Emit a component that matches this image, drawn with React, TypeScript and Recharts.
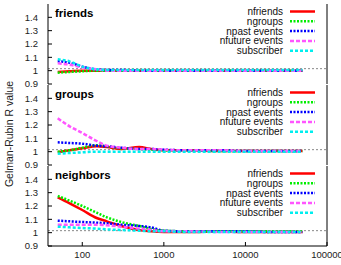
import { LineChart, Line, XAxis, YAxis, ReferenceLine, Legend } from "recharts";

// sample sizes (log x axis)
const xs = [50, 70, 100, 150, 200, 300, 500, 700, 1000, 2000, 5000, 10000, 20000, 50000];

const seriesNames = ["nfriends", "ngroups", "npast events", "nfuture events", "subscriber"];
const seriesColors = ["#ff0000", "#00ee00", "#0000ff", "#ff55ff", "#00eeee"];
const seriesDashes = [undefined, "2 1.5", "2 1.5", "4 2", "3 2"];

const panelTitles = ["friends", "groups", "neighbors"];

// friends panel
const friendsNfriends = [0.99, 0.995, 1.0, 1.0, 1.0, 1.0, 1.0, 1.0, 1.0, 1.0, 1.0, 1.0, 1.0, 1.0];
const friendsNgroups = [0.985, 0.99, 0.995, 1.0, 1.0, 1.0, 1.0, 1.0, 1.0, 1.0, 1.0, 1.0, 1.0, 1.0];
const friendsNpast = [1.07, 1.06, 1.03, 1.01, 1.005, 1.005, 1.0, 1.0, 1.0, 1.0, 1.0, 1.0, 1.0, 1.0];
const friendsNfuture = [1.055, 1.045, 1.025, 1.01, 1.0, 1.0, 1.0, 1.0, 1.0, 1.0, 1.0, 1.0, 1.0, 1.0];
const friendsSubscriber = [1.085, 1.07, 1.03, 1.01, 1.005, 1.005, 1.005, 1.005, 1.005, 1.005, 1.005, 1.005, 1.005, 1.005];

// groups panel
const groupsNfriends = [0.995, 1.01, 1.025, 1.04, 1.035, 1.02, 1.035, 1.02, 1.01, 1.01, 1.005, 1.005, 1.005, 1.005];
const groupsNgroups = [1.0, 1.01, 1.03, 1.048, 1.04, 1.025, 1.02, 1.015, 1.01, 1.01, 1.005, 1.005, 1.005, 1.005];
const groupsNpast = [1.07, 1.065, 1.06, 1.045, 1.04, 1.03, 1.02, 1.02, 1.015, 1.01, 1.01, 1.005, 1.005, 1.005];
const groupsNfuture = [1.25, 1.19, 1.14, 1.08, 1.045, 1.03, 1.02, 1.02, 1.015, 1.01, 1.01, 1.005, 1.005, 1.005];
const groupsSubscriber = [0.985, 0.99, 0.995, 1.0, 1.0, 1.0, 1.0, 1.0, 1.0, 1.0, 1.0, 1.0, 1.0, 1.0];

// neighbors panel
const neighborsNfriends = [1.265, 1.22, 1.17, 1.11, 1.085, 1.05, 1.02, 1.01, 1.005, 1.005, 1.01, 1.005, 1.005, 1.005];
const neighborsNgroups = [1.275, 1.24, 1.2, 1.15, 1.115, 1.08, 1.05, 1.028, 1.015, 1.01, 1.01, 1.01, 1.01, 1.01];
const neighborsNpast = [1.09, 1.085, 1.08, 1.075, 1.07, 1.06, 1.05, 1.04, 1.015, 1.01, 1.01, 1.01, 1.005, 1.005];
const neighborsNfuture = [1.06, 1.06, 1.06, 1.06, 1.055, 1.045, 1.03, 1.02, 1.01, 1.01, 1.005, 1.005, 1.005, 1.005];
const neighborsSubscriber = [1.045, 1.04, 1.035, 1.03, 1.025, 1.02, 1.015, 1.01, 1.01, 1.005, 1.005, 1.005, 1.005, 1.005];

const panelSeries = [
  [friendsNfriends, friendsNgroups, friendsNpast, friendsNfuture, friendsSubscriber],
  [groupsNfriends, groupsNgroups, groupsNpast, groupsNfuture, groupsSubscriber],
  [neighborsNfriends, neighborsNgroups, neighborsNpast, neighborsNfuture, neighborsSubscriber],
];

const xMajor = [100, 1000, 10000, 100000];
const xMinor = [40, 50, 60, 70, 80, 90, 200, 300, 400, 500, 600, 700, 800, 900,
  2000, 3000, 4000, 5000, 6000, 7000, 8000, 9000, 20000, 30000, 40000, 50000, 60000, 70000, 80000, 90000];
const yTicks = [0.9, 1, 1.1, 1.2, 1.3, 1.4];

const FONT = "'Liberation Sans', Arial, sans-serif";

function buildRows(series: number[][]) {
  return xs.map((x, i) => {
    const row: Record<string, number> = { x };
    series.forEach((s, k) => (row["s" + k] = s[i]));
    return row;
  });
}

function LegendBox() {
  return (
    <svg width={135} height={56} style={{ display: "block" }}>
      {seriesNames.map((name, k) => {
        const y = 7.5 + k * 9.8;
        return (
          <g key={name}>
            <text x={93} y={y} dy="0.35em" textAnchor="end" fontSize={10} fontFamily={FONT} fill="#111">
              {name}
            </text>
            <line x1={100} x2={125} y1={y} y2={y} stroke={seriesColors[k]} strokeWidth={2.5}
              strokeDasharray={seriesDashes[k]} />
          </g>
        );
      })}
    </svg>
  );
}

function Panel({ idx, top, height, marginTop, showLabels }: {
  idx: number; top: number; height: number; marginTop: number; showLabels: boolean;
}) {
  const data = buildRows(panelSeries[idx]);
  const xCommon = {
    dataKey: "x", type: "number" as const, scale: "log" as const, domain: [38, 100000],
    allowDataOverflow: true, axisLine: { stroke: "#000" }, tickLine: { stroke: "#000" }, interval: 0 as const,
  };
  return (
    <div style={{ position: "absolute", left: 0, top }}>
      <LineChart width={341} height={height} data={data}
        margin={{ top: marginTop, right: 0, bottom: showLabels ? 0 : 8, left: 0 }}>
        <XAxis {...xCommon} xAxisId="b" orientation="bottom" ticks={xMajor} height={showLabels ? 20 : 0}
          tickSize={-4} tickMargin={9}
          tick={showLabels ? { fontSize: 9.5, fill: "#222", fontFamily: FONT } : false} />
        <XAxis {...xCommon} xAxisId="bm" orientation="bottom" ticks={xMinor} height={0}
          tickSize={-2} tick={false} axisLine={false} />
        <XAxis {...xCommon} xAxisId="t" orientation="top" ticks={xMajor} height={0}
          tickSize={-4} tick={false} />
        <XAxis {...xCommon} xAxisId="tm" orientation="top" ticks={xMinor} height={0}
          tickSize={-2} tick={false} axisLine={false} />
        <YAxis yAxisId="l" type="number" domain={[0.9, 1.5]} allowDataOverflow ticks={yTicks} width={48}
          interval={0} tickSize={-4} tickMargin={14} axisLine={{ stroke: "#000" }} tickLine={{ stroke: "#000" }}
          tick={{ fontSize: 9.5, fill: "#222", fontFamily: FONT }} />
        <YAxis yAxisId="r" orientation="right" type="number" domain={[0.9, 1.5]} allowDataOverflow
          interval={0} ticks={yTicks} width={14} tickSize={-4} tick={false}
          axisLine={{ stroke: "#000" }} tickLine={{ stroke: "#000" }} />
        <ReferenceLine xAxisId="b" yAxisId="l" y={1.015} stroke="#888" strokeDasharray="2 2" />
        {seriesNames.map((name, k) => (
          <Line key={name} xAxisId="b" yAxisId="l" dataKey={"s" + k} name={name} type="monotone"
            stroke={seriesColors[k]} strokeWidth={2.5} strokeDasharray={seriesDashes[k]}
            dot={false} isAnimationActive={false} />
        ))}
        <Legend layout="horizontal" verticalAlign="middle" align="center" content={() => <LegendBox />}
          wrapperStyle={{ position: "absolute", left: 190, top: marginTop, width: 135 }} />
        <text x={55} y={marginTop + 13} fontSize={11.5} fontWeight="bold" fontFamily={FONT} fill="#000">
          {panelTitles[idx]}
        </text>
      </LineChart>
    </div>
  );
}

export default function App() {
  return (
    <div style={{ position: "absolute", left: 0, top: 0, width: 341, height: 265, background: "#fff" }}>
      <Panel idx={0} top={0} height={92} marginTop={4} showLabels={false} />
      <Panel idx={1} top={77} height={96} marginTop={8} showLabels={false} />
      <Panel idx={2} top={158} height={108} marginTop={8} showLabels={true} />
      <svg width={20} height={265} style={{ position: "absolute", left: 0, top: 0 }}>
        <text x={0} y={0} transform="translate(9,134) rotate(-90)" textAnchor="middle" dy="0.35em"
          fontSize={10.5} fontFamily={FONT} fill="#222">
          Gelman-Rubin R value
        </text>
      </svg>
    </div>
  );
}
